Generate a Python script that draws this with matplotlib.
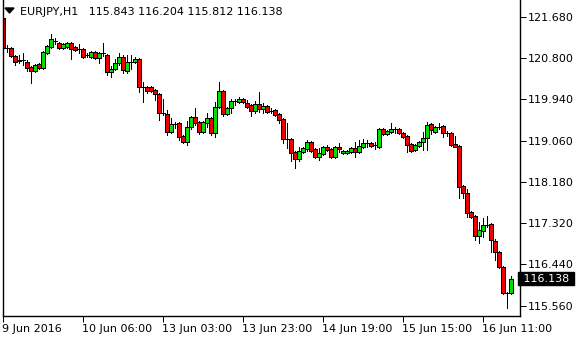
import matplotlib
matplotlib.use("Agg")
import matplotlib.pyplot as plt
import matplotlib.transforms as mtransforms
import numpy as np

# EURJPY H1 candles
opens = [121.66, 121.02, 121.02, 120.85, 120.75, 120.77, 120.73, 120.62, 120.53, 120.68,
         120.60, 120.92, 121.04, 121.17, 121.13, 121.02, 121.04, 121.13, 121.04, 121.00,
         121.00, 120.87, 120.83, 120.94, 120.81, 120.92, 120.87, 120.51, 120.58, 120.70,
         120.83, 120.53, 120.73, 120.73, 120.79, 120.20, 120.20, 120.20, 120.13, 120.05,
         119.65, 119.62, 119.24, 119.41, 119.43, 119.16, 119.03, 119.35, 119.56, 119.46,
         119.24, 119.43, 119.54, 119.22, 119.77, 120.11, 119.62, 119.75, 119.90, 119.88,
         119.94, 119.86, 119.81, 119.69, 119.84, 119.73, 119.79, 119.69, 119.71, 119.62,
         119.52, 119.10, 119.10, 118.82, 118.67, 118.82, 118.88, 119.03, 118.88, 118.71,
         118.78, 118.93, 118.88, 118.71, 118.93, 118.80, 118.80, 118.82, 118.91, 118.82,
         118.93, 119.01, 119.01, 118.97, 118.93, 119.31, 119.20, 119.24, 119.31, 119.31,
         119.22, 119.16, 118.99, 118.86, 118.95, 119.03, 119.12, 119.41, 119.24, 119.35,
         119.37, 119.22, 119.22, 118.99, 118.95, 118.10, 117.95, 117.55, 117.47, 117.04,
         117.15, 117.27, 117.30, 116.94, 116.70, 116.39, 115.84, 115.843]
highs = [121.70, 121.09, 121.04, 120.87, 120.87, 120.92, 120.77, 120.64, 120.68, 120.70,
         120.96, 121.09, 121.32, 121.23, 121.15, 121.13, 121.15, 121.15, 121.06, 121.11,
         121.02, 120.92, 120.96, 120.96, 120.94, 121.13, 120.89, 120.64, 120.79, 120.92,
         120.87, 120.87, 120.87, 120.83, 120.81, 120.30, 120.22, 120.22, 120.15, 120.07,
         119.94, 119.71, 119.54, 119.46, 119.46, 119.18, 119.48, 119.58, 119.75, 119.48,
         119.48, 119.65, 119.56, 119.88, 120.30, 120.13, 119.77, 119.94, 119.94, 119.98,
         119.96, 119.92, 119.84, 119.90, 120.09, 119.86, 119.81, 119.75, 119.73, 119.65,
         119.54, 119.43, 119.12, 118.84, 118.93, 118.93, 119.07, 119.05, 118.91, 118.91,
         118.95, 118.97, 118.91, 118.95, 119.01, 118.86, 118.86, 118.93, 119.03, 119.07,
         119.10, 119.07, 119.03, 119.03, 119.33, 119.33, 119.29, 119.43, 119.35, 119.33,
         119.24, 119.18, 119.01, 118.99, 119.05, 119.24, 119.46, 119.43, 119.37, 119.43,
         119.39, 119.26, 119.24, 119.16, 118.97, 118.12, 118.04, 117.57, 117.49, 117.34,
         117.42, 117.47, 117.32, 116.98, 116.72, 116.41, 115.86, 116.204]
lows = [120.96, 120.94, 120.83, 120.66, 120.70, 120.66, 120.53, 120.28, 120.51, 120.58,
        120.58, 120.89, 121.02, 121.11, 121.00, 121.00, 121.02, 120.79, 120.96, 120.92,
        120.81, 120.83, 120.81, 120.79, 120.70, 120.85, 120.45, 120.41, 120.56, 120.66,
        120.49, 120.49, 120.58, 120.70, 120.09, 119.88, 120.07, 120.09, 119.92, 119.50,
        119.60, 119.18, 119.22, 119.33, 119.07, 119.01, 118.97, 119.31, 119.39, 119.20,
        119.22, 119.35, 119.18, 119.14, 119.75, 119.58, 119.60, 119.65, 119.81, 119.86,
        119.86, 119.75, 119.58, 119.65, 119.67, 119.65, 119.65, 119.65, 119.58, 119.43,
        119.01, 118.91, 118.63, 118.48, 118.63, 118.80, 118.84, 118.82, 118.69, 118.65,
        118.76, 118.84, 118.69, 118.69, 118.82, 118.78, 118.78, 118.80, 118.71, 118.80,
        118.91, 118.93, 118.93, 118.88, 118.91, 119.18, 119.18, 119.22, 119.22, 119.20,
        119.12, 118.82, 118.82, 118.84, 118.93, 118.86, 118.86, 119.20, 119.22, 119.31,
        119.14, 119.16, 118.95, 118.93, 117.85, 117.85, 117.44, 117.42, 116.96, 116.89,
        117.02, 117.23, 116.70, 116.53, 116.36, 115.81, 115.52, 115.812]
closes = [121.02, 121.02, 120.85, 120.73, 120.77, 120.77, 120.60, 120.53, 120.66, 120.60,
          120.94, 121.06, 121.21, 121.17, 121.02, 121.11, 121.13, 121.00, 120.98, 121.00,
          120.83, 120.87, 120.94, 120.81, 120.92, 120.92, 120.51, 120.58, 120.70, 120.83,
          120.56, 120.73, 120.73, 120.79, 120.20, 120.20, 120.11, 120.11, 120.05, 119.65,
          119.65, 119.24, 119.41, 119.41, 119.14, 119.03, 119.35, 119.56, 119.43, 119.24,
          119.46, 119.54, 119.22, 119.77, 120.11, 119.62, 119.75, 119.90, 119.90, 119.94,
          119.88, 119.77, 119.69, 119.84, 119.73, 119.79, 119.67, 119.69, 119.60, 119.50,
          119.10, 119.10, 118.80, 118.67, 118.84, 118.91, 119.03, 118.84, 118.71, 118.80,
          118.93, 118.86, 118.71, 118.93, 118.88, 118.84, 118.84, 118.91, 118.82, 118.95,
          119.01, 119.01, 118.95, 118.97, 119.31, 119.20, 119.26, 119.31, 119.31, 119.22,
          119.14, 118.97, 118.84, 118.97, 119.03, 119.12, 119.39, 119.29, 119.35, 119.35,
          119.22, 119.22, 118.97, 118.93, 118.08, 117.95, 117.53, 117.44, 117.04, 117.17,
          117.27, 117.27, 116.96, 116.70, 116.39, 115.84, 115.84, 116.138]

price_ticks = [121.680, 120.800, 119.940, 119.060, 118.180, 117.320, 116.440, 115.560]
time_labels = ["9 Jun 2016", "10 Jun 06:00", "13 Jun 03:00", "13 Jun 23:00",
               "14 Jun 19:00", "15 Jun 15:00", "16 Jun 11:00"]
bars_per_label = 20
symbol = "EURJPY,H1"

W, H = 580, 340
fig = plt.figure(figsize=(W / 100, H / 100), dpi=100)
fig.patch.set_facecolor("white")
# plot area in pixels: x 2.5..519.5, y 0..316
ax = fig.add_axes([2.5 / W, (H - 316) / H, 517 / W, 316 / H])

o = np.array(opens)
h = np.array(highs)
l = np.array(lows)
c = np.array(closes)
x = np.arange(len(o))

colors = np.where(c > o, "#00e000", np.where(c < o, "#f00000", "black"))

lw = 72 / 100  # one pixel
ax.vlines(x, l, h, color="black", linewidth=lw, antialiased=False, zorder=1)
ax.bar(x, c - o, bottom=o, width=0.8, color=colors, edgecolor="black",
       linewidth=lw, antialiased=False, zorder=2)

ax.set_xlim(-0.125, 129.125)
ax.set_ylim(115.348, 122.038)

for side in ["left", "right", "bottom"]:
    ax.spines[side].set_linewidth(1.0)
    ax.spines[side].set_color("black")
ax.spines["top"].set_visible(False)

ax.yaxis.tick_right()
ax.set_yticks(price_ticks)
ax.set_yticklabels([f"{p:.3f}" for p in price_ticks])
ax.set_xticks(np.arange(len(time_labels)) * bars_per_label)
ax.set_xticklabels(time_labels, ha="left")
ax.tick_params(axis="both", direction="out", length=4, width=lw,
               labelsize=8, colors="black")
ax.tick_params(axis="y", pad=2)
ax.tick_params(axis="x", pad=2)
for lab in ax.get_xticklabels():
    lab.set_transform(lab.get_transform() + mtransforms.ScaledTranslation(-1 / 100, 0, fig.dpi_scale_trans))

# current price box
trans = mtransforms.blended_transform_factory(ax.transAxes, ax.transData)
ax.text(1.0, c[-1], f" {c[-1]:.3f} ", transform=trans, ha="left", va="center",
        fontsize=8, color="white", clip_on=False,
        bbox=dict(boxstyle="square,pad=0.15", fc="black", ec="black"))

# header: triangle + symbol + OHLC
tri = plt.Polygon([(5 / W, 1 - 8 / H), (14 / W, 1 - 8 / H), (9.5 / W, 1 - 13 / H)],
                  closed=True, transform=fig.transFigure, color="black")
fig.patches.append(tri)
fig.text(20 / W, 1 - 12 / H,
         f"{symbol}   {o[-1]:.3f} {h[-1]:.3f} {l[-1]:.3f} {c[-1]:.3f}",
         fontsize=8, va="center", ha="left", color="black")

fig.savefig("out.png", dpi=100, facecolor="white")
